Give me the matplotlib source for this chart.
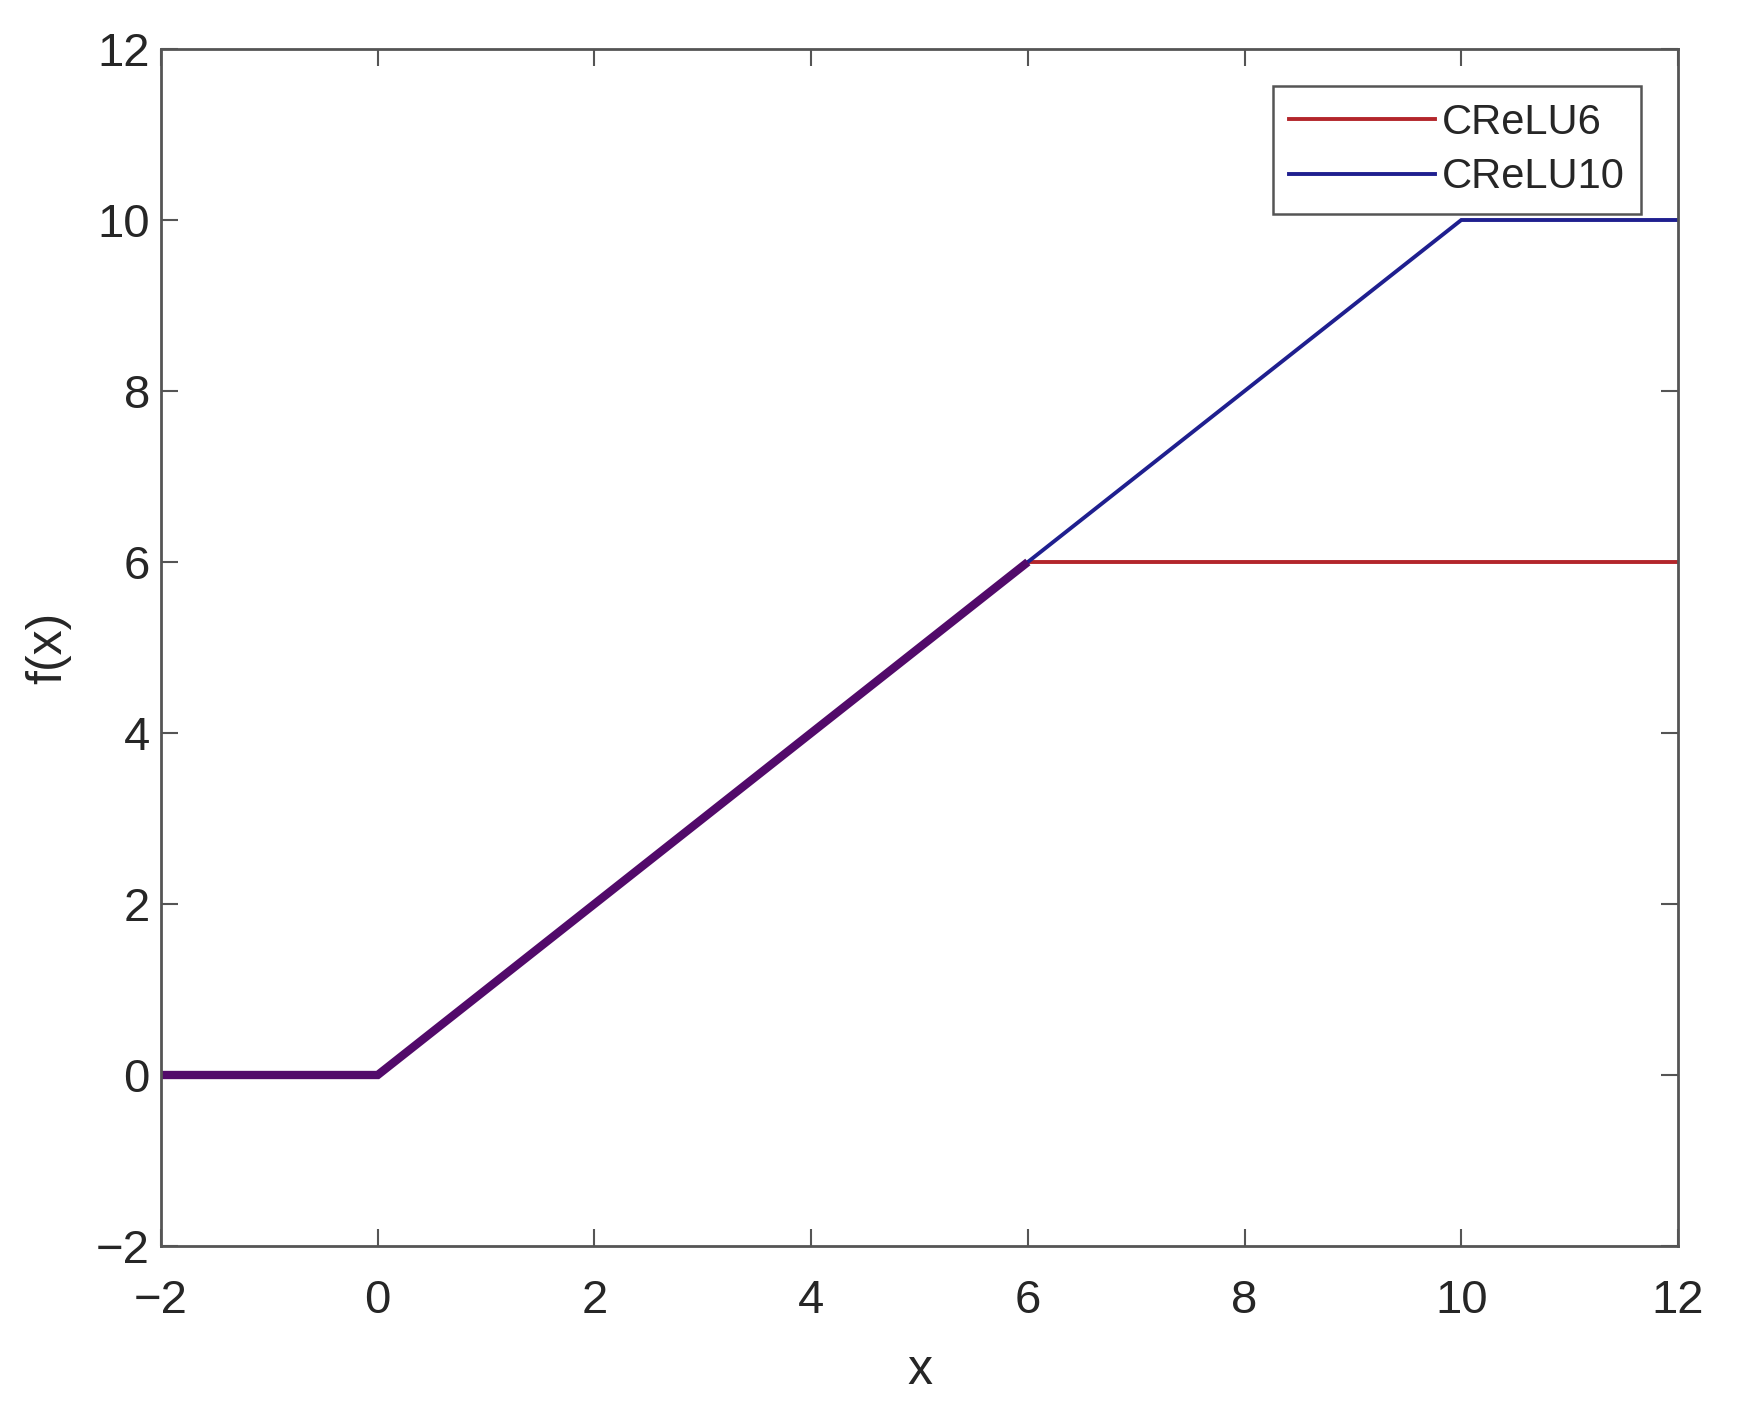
import matplotlib
matplotlib.use('Agg')
import matplotlib.pyplot as plt
import numpy as np

# breakpoints of the two clipped ReLU curves
x_pts = [-2, 0, 6, 10, 12]
crelu6 = [0, 0, 6, 6, 6]
crelu10 = [0, 0, 6, 10, 10]

x_ticks = [-2, 0, 2, 4, 6, 8, 10, 12]
y_ticks = [-2, 0, 2, 4, 6, 8, 10, 12]

RED = '#b3262b'
BLUE = '#1f1f8f'
PURPLE = '#520a6a'

plt.rcParams['font.family'] = ['Liberation Sans', 'DejaVu Sans']

fig = plt.figure(figsize=(17.39, 14.11), dpi=100)
ax = fig.add_axes([161 / 1739, 1 - 1246 / 1411, (1678 - 161) / 1739, (1246 - 49) / 1411])

x = np.array(x_pts, dtype=float)
y6 = np.array(crelu6, dtype=float)
y10 = np.array(crelu10, dtype=float)

ax.plot(x, y6, color=RED, lw=2.8, label='CReLU6', solid_joinstyle='miter')
ax.plot(x, y10, color=BLUE, lw=2.8, label='CReLU10', solid_joinstyle='miter')

# where both curves coincide the overlap shows as a thicker purple line
same = y6 == y10
ax.plot(x[same], y6[same], color=PURPLE, lw=6, solid_joinstyle='miter',
        solid_capstyle='butt')

ax.set_xlim(-2, 12)
ax.set_ylim(-2, 12)
ax.set_xticks(x_ticks)
ax.set_yticks(y_ticks)
ax.set_xticklabels([str(t).replace('-', '\u2212') for t in x_ticks])
ax.set_yticklabels([str(t).replace('-', '\u2212') for t in y_ticks])

ax.tick_params(direction='in', length=12, width=1.5, colors='#555555',
               labelcolor='#262626', labelsize=34, top=True, right=True)
ax.tick_params(axis='x', pad=24)
ax.tick_params(axis='y', pad=8)
for s in ax.spines.values():
    s.set_color('#555555')
    s.set_linewidth(2)

ax.set_xlabel('x', fontsize=36, color='#262626', labelpad=18)
ax.set_ylabel('f(x)', fontsize=36, color='#262626', labelpad=18)

leg = ax.legend(loc='upper right', bbox_to_anchor=(0.9756, 0.969), fontsize=30,
                handlelength=3.5, handletextpad=0.15, borderpad=0.4,
                labelspacing=0.35, borderaxespad=0, fancybox=False, framealpha=1)
leg.get_frame().set_edgecolor('#555555')
leg.get_frame().set_linewidth(1.8)
for t in leg.get_texts():
    t.set_color('#262626')

fig.savefig('out.png', dpi=100)
